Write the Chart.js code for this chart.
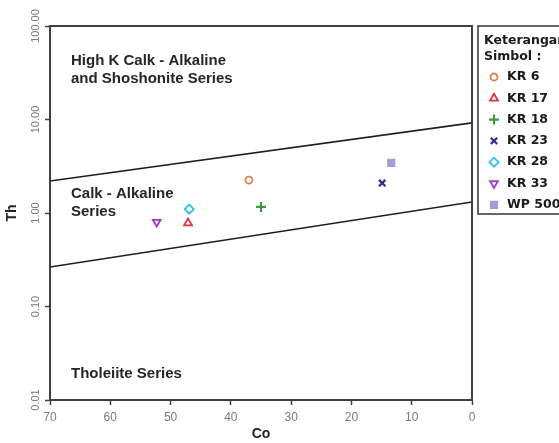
<!DOCTYPE html>
<html>
<head>
<meta charset="utf-8">
<script src="https://cdn.jsdelivr.net/npm/chart.js@4.4.0/dist/chart.umd.min.js"></script>
<style>
  html, body { margin: 0; padding: 0; background: #fff; overflow: hidden; }
</style>
</head>
<body>
<canvas id="chart" width="559" height="443"></canvas>
<script>
// sample data (Co vs Th)
const samples = ['KR 6', 'KR 17', 'KR 18', 'KR 23', 'KR 28', 'KR 33', 'WP 500'];
const coValues = [37.0, 47.1, 35.0, 14.9, 46.9, 52.3, 13.4];
const thValues = [2.25, 0.78, 1.16, 2.09, 1.10, 0.80, 3.43];

const markerStyles = ['circle', 'triangle', 'cross', 'crossRot', 'rectRot', 'triangle', 'rect'];
const markerRotation = [0, 0, 0, 0, 0, 180, 0];
const markerColors = ['#d9824a', '#e0303c', '#3c9c3c', '#2b2f8c', '#2cc6e0', '#a23cc4', '#a99ad8'];
const markerFill = ['#fff', '#fff', '#fff', '#fff', '#fff', '#fff', '#a99ad8'];
const markerRadius = [3.5, 4.5, 5, 4.5, 4.5, 4.5, 4.5];

// boundary lines between series fields [Co, Th]
const upperBoundary = [[70, 2.2], [0, 9.2]];
const lowerBoundary = [[70, 0.264], [0, 1.31]];

const thTicks = [0.01, 0.1, 1, 10, 100];

const fieldLabels = [
    { lines: ['High K Calk - Alkaline', 'and Shoshonite Series'], y: 61 },
    { lines: ['Calk - Alkaline', 'Series'], y: 194 },
    { lines: ['Tholeiite Series'], y: 374 },
];

const AXIS_COLOR = '#404040';

const sampleSets = samples.map((name, i) => ({
    label: name,
    data: [{ x: coValues[i], y: thValues[i] }],
    pointStyle: markerStyles[i],
    rotation: markerRotation[i],
    radius: markerRadius[i],
    borderColor: markerColors[i],
    backgroundColor: markerFill[i],
    borderWidth: markerStyles[i] === 'cross' || markerStyles[i] === 'crossRot' ? 2.2 : 1.8,
    showLine: false,
}));

const boundarySets = [upperBoundary, lowerBoundary].map(line => ({
    label: '',
    type: 'line',
    data: line.map(([x, y]) => ({ x, y })),
    borderColor: '#1e1e1e',
    borderWidth: 1.6,
    pointRadius: 0,
    fill: false,
}));

// frame around the plot
const frame = {
    id: 'frame',
    afterDatasetsDraw(chart) {
        const { ctx, chartArea: a } = chart;
        ctx.save();
        ctx.strokeStyle = AXIS_COLOR;
        ctx.lineWidth = 2;
        ctx.beginPath();
        ctx.moveTo(a.left, a.top);
        ctx.lineTo(a.right, a.top);
        ctx.lineTo(a.right, a.bottom);
        ctx.stroke();
        ctx.restore();
    }
};

const fields = {
    id: 'fields',
    afterDraw(chart) {
        const { ctx, chartArea: a } = chart;
        ctx.save();
        ctx.fillStyle = '#262626';
        ctx.font = 'bold 15px "Liberation Sans", Arial, sans-serif';
        ctx.textBaseline = 'middle';
        for (const f of fieldLabels) {
            f.lines.forEach((t, i) => ctx.fillText(t, a.left + 21, f.y + i * 17.5));
        }
        ctx.restore();
    }
};

const keterangan = {
    id: 'keterangan',
    afterDraw(chart) {
        const ctx = chart.ctx;
        ctx.save();
        ctx.strokeStyle = '#333';
        ctx.lineWidth = 1.5;
        ctx.strokeRect(478, 26, 120, 188);
        ctx.fillStyle = '#1a1a1a';
        ctx.font = 'bold 12.5px "DejaVu Sans", sans-serif';
        ctx.textBaseline = 'middle';
        ctx.fillText('Keterangan', 484, 41);
        ctx.fillText('Simbol :', 484, 57);
        samples.forEach((s, i) => {
            const y = 77 + i * 21.3;
            ctx.strokeStyle = markerColors[i];
            ctx.fillStyle = markerFill[i];
            ctx.lineWidth = sampleSets[i].borderWidth;
            Chart.helpers.drawPoint(ctx, {
                pointStyle: markerStyles[i],
                rotation: markerRotation[i],
                radius: markerRadius[i],
                borderWidth: sampleSets[i].borderWidth,
            }, 494, y);
            ctx.fillStyle = '#1a1a1a';
            ctx.fillText(s, 507, y);
        });
        ctx.restore();
    }
};

new Chart(document.getElementById('chart'), {
    type: 'scatter',
    data: { datasets: [...boundarySets, ...sampleSets] },
    options: {
        responsive: false,
        animation: false,
        layout: { padding: { top: 26, right: 87, left: 0, bottom: 0 } },
        plugins: { legend: { display: false }, tooltip: { enabled: false } },
        scales: {
            x: {
                type: 'linear',
                reverse: true,
                min: 0,
                max: 70,
                afterFit: s => { s.height = 43; },
                ticks: { stepSize: 10, color: '#7a7a7a', font: { size: 12, family: 'Liberation Sans' }, padding: 5 },
                grid: { drawOnChartArea: false, tickLength: 5, tickWidth: 1.5, tickColor: AXIS_COLOR },
                border: { color: AXIS_COLOR, width: 2 },
                title: {
                    display: true, text: 'Co', color: '#222',
                    font: { size: 14, weight: 'bold', family: 'Liberation Sans' },
                    padding: { top: 0, bottom: 0 },
                },
            },
            y: {
                type: 'logarithmic',
                min: 0.01,
                max: 100,
                afterFit: s => { s.width = 50; },
                afterBuildTicks: s => { s.ticks = thTicks.map(v => ({ value: v })); },
                ticks: {
                    callback: v => Number(v).toFixed(2),
                    minRotation: 90, maxRotation: 90,
                    crossAlign: 'center',
                    padding: -8,
                    color: '#7a7a7a',
                    font: { size: 11, family: 'Liberation Sans' },
                },
                grid: { drawOnChartArea: false, tickLength: 5, tickWidth: 1.5, tickColor: AXIS_COLOR },
                border: { color: AXIS_COLOR, width: 2 },
                title: {
                    display: true, text: 'Th', color: '#222',
                    font: { size: 14, weight: 'bold', family: 'Liberation Sans' },
                    padding: { top: 4, bottom: 0 },
                },
            },
        },
    },
    plugins: [frame, fields, keterangan],
});
</script>
</body>
</html>
